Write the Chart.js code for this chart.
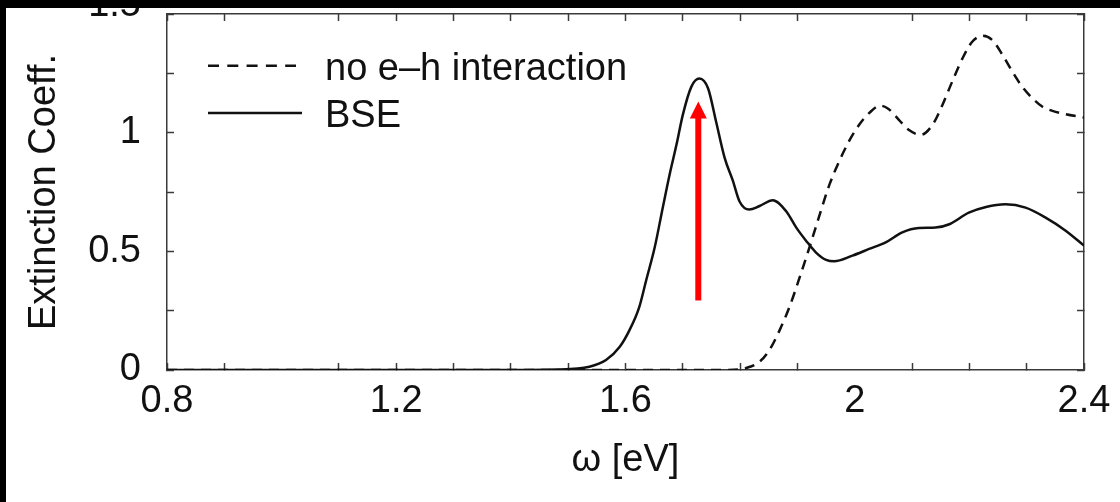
<!DOCTYPE html>
<html>
<head>
<meta charset="utf-8">
<script src="https://cdn.jsdelivr.net/npm/chart.js@4/dist/chart.umd.min.js"></script>
<style>
  html, body { margin: 0; padding: 0; background: #000; width: 1120px; height: 502px; overflow: hidden; }
  #wrap { position: absolute; left: 6px; top: 8px; width: 1114px; height: 494px; background: #fff; }
  canvas { display: block; }
</style>
</head>
<body>
<div id="wrap"><canvas id="chart" width="1114" height="494"></canvas></div>
<script>
// Photon energy (eV) and extinction coefficient, independent-particle spectrum
const noEhEnergy = [0.80, 1.78, 1.81, 1.834, 1.851, 1.869, 1.886, 1.904, 1.921, 1.939, 1.956, 1.973, 1.990,
  2.008, 2.025, 2.044, 2.059, 2.077, 2.094, 2.115, 2.136, 2.153, 2.170, 2.188, 2.205, 2.223, 2.240,
  2.258, 2.275, 2.292, 2.310, 2.327, 2.345, 2.368, 2.400];
const noEhValue = [0, 0, 0.008, 0.035, 0.084, 0.168, 0.265, 0.391, 0.517, 0.656, 0.782, 0.880, 0.964,
  1.034, 1.082, 1.114, 1.100, 1.054, 1.012, 0.991, 1.034, 1.117, 1.215, 1.313, 1.383, 1.408, 1.390,
  1.327, 1.257, 1.194, 1.145, 1.110, 1.092, 1.078, 1.064];

// Bethe-Salpeter spectrum
const bseEnergy = [0.80, 1.40, 1.48, 1.537, 1.566, 1.590, 1.607, 1.624, 1.636, 1.651, 1.665, 1.677, 1.689,
  1.700, 1.715, 1.729, 1.744, 1.758, 1.773, 1.787, 1.799, 1.816, 1.834, 1.857, 1.880, 1.898, 1.915,
  1.932, 1.950, 1.964, 1.996, 2.025, 2.054, 2.083, 2.112, 2.141, 2.165, 2.199, 2.229, 2.263, 2.298,
  2.333, 2.368, 2.400];
const bseValue = [0, 0, 0.002, 0.014, 0.042, 0.098, 0.168, 0.265, 0.377, 0.517, 0.684, 0.824, 0.950,
  1.075, 1.194, 1.228, 1.187, 1.047, 0.894, 0.800, 0.710, 0.676, 0.691, 0.715, 0.670, 0.600, 0.545,
  0.496, 0.464, 0.458, 0.482, 0.510, 0.538, 0.580, 0.598, 0.600, 0.614, 0.663, 0.687, 0.698, 0.684,
  0.642, 0.587, 0.524];

const seriesLabels = ['no e\u2013h interaction', 'BSE'];

// Axis ticks and labels
const xTickValues = [0.8, 0.9, 1.0, 1.1, 1.2, 1.3, 1.4, 1.5, 1.6, 1.7, 1.8, 1.9, 2.0, 2.1, 2.2, 2.3, 2.4];
const xLabelValues = [0.8, 1.2, 1.6, 2.0, 2.4];
const xTickLabels = ['0.8', '1.2', '1.6', '2', '2.4'];
const xUnmarkedTicks = [1.0, 2.0];
const yTickValues = [0, 0.25, 0.5, 0.75, 1.0, 1.25, 1.5];
const yLabelValues = [0, 0.5, 1.0, 1.5];
const yTickLabels = ['0', '0.5', '1', '1.5'];

// Arrow marking the bound exciton peak: [energy, start value, tip value]
const excitonArrow = [1.727, 0.293, 1.131];

const FONT = { family: '"Liberation Sans", Arial, Helvetica, sans-serif', size: 38 };
const INK = '#111';
const FRAME = '#3a3a3a';

const near = (a, b) => Math.abs(a - b) < 1e-6;
const labelFor = (vals, labels) => v => {
  const i = vals.findIndex(t => near(t, v));
  return i >= 0 ? labels[i] : '';
};
const pairs = (xs, ys) => xs.map((x, i) => ({ x, y: ys[i] }));

function fixBox(w, h) {
  return scale => {
    if (w !== null) scale.width = w;
    if (h !== null) scale.height = h;
    scale.paddingLeft = scale.paddingRight = scale.paddingTop = scale.paddingBottom = 0;
  };
}

const gridX = {
  drawOnChartArea: false, drawTicks: true, tickLength: -7, tickWidth: 1.5,
  tickColor: ctx => (ctx.tick && xUnmarkedTicks.some(t => near(t, ctx.tick.value))) ? 'rgba(0,0,0,0)' : FRAME
};
const gridY = { drawOnChartArea: false, drawTicks: true, tickLength: -7, tickWidth: 1.5, tickColor: FRAME };
const border = { display: true, color: FRAME, width: 1.5 };

const setXTicks = s => { s.ticks = xTickValues.map(v => ({ value: v })); };
const setYTicks = s => { s.ticks = yTickValues.map(v => ({ value: v })); };

// The topmost y label is set a little above its tick, running off the top edge
const yMax = 1.5;
const yLabel = v => {
  const text = labelFor(yLabelValues, yTickLabels)(v);
  return near(v, yMax) ? [text, ''] : text;
};
const yFont = ctx => (ctx.tick && near(ctx.tick.value, yMax))
  ? { ...FONT, lineHeight: '16px' } : FONT;

// In-plot legend and exciton arrow
const overlay = {
  id: 'overlay',
  afterDatasetsDraw(chart) {
    const { ctx, chartArea: a, scales } = chart;
    const xs = scales.x, ys = scales.y;

    // arrow
    const ax = xs.getPixelForValue(excitonArrow[0]);
    const ay0 = ys.getPixelForValue(excitonArrow[1]);
    const ay1 = ys.getPixelForValue(excitonArrow[2]);
    const headLen = 17, headHalf = 8.5, shaft = 6;
    ctx.save();
    ctx.fillStyle = '#ff0000';
    ctx.fillRect(ax - shaft / 2, ay1 + headLen - 1, shaft, ay0 - (ay1 + headLen - 1));
    ctx.beginPath();
    ctx.moveTo(ax, ay1);
    ctx.lineTo(ax + headHalf, ay1 + headLen);
    ctx.lineTo(ax - headHalf, ay1 + headLen);
    ctx.closePath();
    ctx.fill();
    ctx.restore();

    // legend
    const rows = [
      { y: a.top + 51.7, len: 88, dash: [11, 8.3], base: 14.3 },
      { y: a.top + 99, len: 94, dash: [], base: 13.7 }
    ];
    ctx.save();
    chart.data.datasets.forEach((ds, i) => {
      const r = rows[i];
      ctx.strokeStyle = ds.borderColor;
      ctx.lineWidth = ds.borderWidth;
      ctx.setLineDash(r.dash);
      ctx.beginPath();
      ctx.moveTo(a.left + 41, r.y);
      ctx.lineTo(a.left + 41 + r.len, r.y);
      ctx.stroke();
      ctx.setLineDash([]);
      ctx.fillStyle = INK;
      ctx.font = `${FONT.size}px ${FONT.family}`;
      ctx.textBaseline = 'alphabetic';
      ctx.textAlign = 'left';
      ctx.fillText(ds.label, a.left + 158, r.y + r.base);
    });
    ctx.restore();
  }
};

new Chart(document.getElementById('chart'), {
  type: 'line',
  data: {
    datasets: [
      {
        label: seriesLabels[0], data: pairs(noEhEnergy, noEhValue),
        borderColor: INK, borderWidth: 2.5, borderDash: [10, 7],
        pointRadius: 0, fill: false, cubicInterpolationMode: 'monotone',
        xAxisID: 'x', yAxisID: 'y'
      },
      {
        label: seriesLabels[1], data: pairs(bseEnergy, bseValue),
        borderColor: INK, borderWidth: 2.5,
        pointRadius: 0, fill: false, cubicInterpolationMode: 'monotone',
        xAxisID: 'x', yAxisID: 'y'
      }
    ]
  },
  options: {
    responsive: false,
    animation: false,
    devicePixelRatio: 1,
    layout: { padding: 0, autoPadding: false },
    plugins: { legend: { display: false }, tooltip: { enabled: false } },
    scales: {
      x: {
        type: 'linear', position: 'bottom', min: 0.8, max: 2.4,
        afterBuildTicks: setXTicks, afterFit: fixBox(null, 132),
        ticks: { autoSkip: false, maxRotation: 0, padding: 16, color: INK, font: FONT,
                 callback: labelFor(xLabelValues, xTickLabels) },
        grid: gridX, border,
        title: { display: true, text: '\u03c9 [eV]', color: INK, font: FONT, padding: { top: 0, bottom: 19 } }
      },
      x2: {
        type: 'linear', position: 'top', min: 0.8, max: 2.4,
        afterBuildTicks: setXTicks, afterFit: fixBox(null, 6),
        ticks: { display: false }, grid: gridX, border
      },
      y: {
        type: 'linear', position: 'left', min: 0, max: yMax,
        afterBuildTicks: setYTicks, afterFit: fixBox(161, null),
        ticks: { autoSkip: false, padding: 33, color: INK, font: yFont, callback: yLabel },
        grid: gridY, border,
        title: { display: true, text: 'Extinction Coeff.', color: INK, font: FONT, padding: { top: 16, bottom: 0 } }
      },
      y2: {
        type: 'linear', position: 'right', min: 0, max: yMax,
        afterBuildTicks: setYTicks, afterFit: fixBox(36, null),
        ticks: { display: false }, grid: gridY, border
      }
    }
  },
  plugins: [overlay]
});
</script>
</body>
</html>
